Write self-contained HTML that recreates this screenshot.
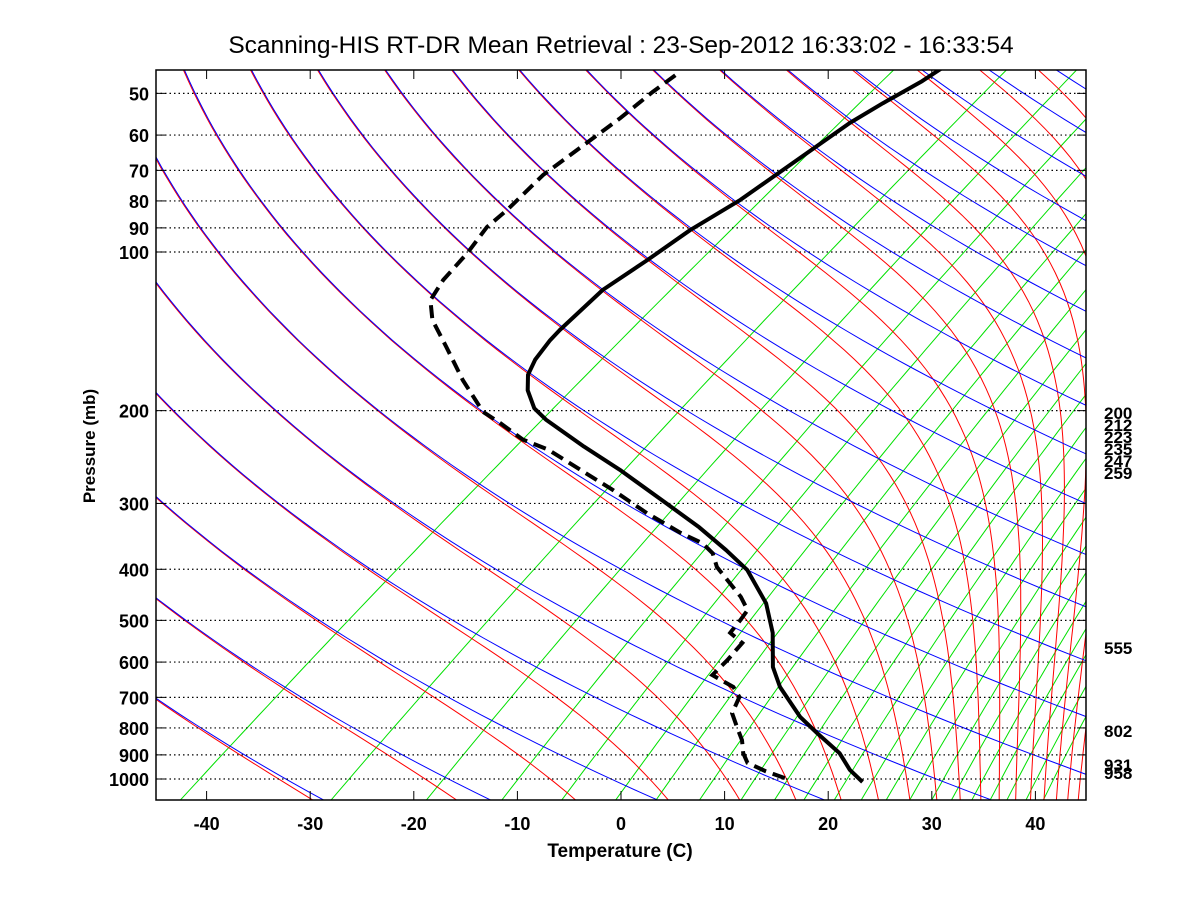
<!DOCTYPE html>
<html><head><meta charset="utf-8"><style>
body{margin:0;background:#fff}
svg{display:block;font-family:"Liberation Sans",sans-serif}
</style></head><body>
<svg id="chart" width="1200" height="900" viewBox="0 0 1200 900" xmlns="http://www.w3.org/2000/svg">
<rect width="1200" height="900" fill="#fff"/>
<defs><clipPath id="pc"><rect x="156" y="70" width="930" height="730"/></clipPath></defs>
<text x="621" y="53" font-size="24.5" text-anchor="middle">Scanning-HIS RT-DR Mean Retrieval : 23-Sep-2012 16:33:02 - 16:33:54</text>
<g id="grid" clip-path="url(#pc)"></g>
<g id="lev"></g>
<g id="prof" clip-path="url(#pc)"></g>
<rect x="156" y="70" width="930" height="730" fill="none" stroke="#000" stroke-width="1.5"/>
<g id="axes" font-weight="bold" font-size="18"></g>
<text x="620" y="857" font-size="19" font-weight="bold" text-anchor="middle">Temperature (C)</text>
<text transform="translate(95,446) rotate(-90)" font-size="17" font-weight="bold" text-anchor="middle">Pressure (mb)</text>
</svg>
<script>
const xTicks=[-40,-30,-20,-10,0,10,20,30,40];
const pLevels=[50,60,70,80,90,100,200,300,400,500,600,700,800,900,1000];
const thetaLines=[];for(let k=0;k<22;k++)thetaLines.push(225+15.7*k);
const mixRatios=[0.11,0.45,1.0,1.8,2.8,4.1,5.4,7.2,9.4,11.6,13.9,16.7,19.6,22.7,26,29.5,33,37,41,45,50,55];
const tempP=[1013,961,893,818,763,669,613,528,464,401,368,333,300,259,234,208,198,183,171,160,147,140.6,118,103.6,90.9,79.6,56.9,52.2,47.4,44.8];
const tempT=[23.7,20.9,17.7,12.9,9.2,3.3,0.0,-4.5,-9.0,-15.2,-19.8,-25.4,-31.7,-40.6,-47.1,-54.3,-56.9,-59.9,-61.9,-63.2,-64.3,-64.7,-65.8,-65.4,-65.2,-64.3,-63.8,-63.2,-62.3,-62.1];
const dewP=[996,966,932,893,844,797,750,699,669,635,595,552,528,499,478,451,396,373,357,341,313,283,259,237,227,211,201,175,151.5,134.6,123.4,113,100.4,89.7,83.2,71.4,64.0,55.7,49.7,45.5];
const dewT=[15.7,12.9,10.1,8.4,6.6,4.4,2.1,0.7,-1.2,-4.8,-5.3,-6.1,-8.6,-9.3,-9.9,-12.3,-18.5,-20.7,-23.0,-26.5,-32.3,-38.6,-44.4,-50.2,-53.9,-58.3,-61.4,-67.5,-73.4,-78.3,-81.1,-82.5,-83.7,-85.2,-85.5,-86.6,-86.6,-86.6,-86.9,-86.9];
const rightLabels=["200","212","223","235","247","259","555","802","931","958"];
const rightLabelY=[413,425,437,449,461,473,648,731,765,773];

const X0=621,PX=10.36,S=69,Y1000=779,PD=527;
function L(p){return Math.log10(1000/p);}
function yOf(p){return Y1000-PD*L(p);}
function xOf(T,p){return X0+PX*(T+S*L(p));}
const NS='http://www.w3.org/2000/svg';
function mk(tag,attrs,parent){const e=document.createElementNS(NS,tag);for(const k in attrs)e.setAttribute(k,attrs[k]);parent.appendChild(e);return e;}
const pS=[];for(let i=0;i<=80;i++)pS.push(40*Math.pow(1150/40,i/80));
function es(T){return 6.112*Math.exp(17.67*T/(T+243.5));}
function thetaE(T,p){const Tk=T+273.15;const rs=0.622*es(T)/Math.max(p-es(T),1);return Tk*Math.pow(1000/p,0.286)*Math.exp(2.5e6*rs/(1004*Tk));}
function moistT(te,p){let lo=-160,hi=70;for(let i=0;i<50;i++){const m=(lo+hi)/2;if(thetaE(m,p)>te)hi=m;else lo=m;}return (lo+hi)/2;}
const grid=document.getElementById('grid');
function poly(pts){return pts.map((q,i)=>(i?'L':'M')+q[0].toFixed(1)+','+q[1].toFixed(1)).join('');}
mixRatios.forEach(w=>{const pts=pS.map(p=>{const e=w*p/(622+w);const a=Math.log(e/6.112);const T=243.5*a/(17.67-a);return [xOf(T,p),yOf(p)];});
const el=mk('path',{d:poly(pts),stroke:'#00e000','stroke-width':1,fill:'none'},grid);

});
thetaLines.forEach(th=>{const pts=pS.map(p=>[xOf(moistT(th,p),p),yOf(p)]);
const el=mk('path',{d:poly(pts),stroke:'#ff0000','stroke-width':1,fill:'none'},grid);

});
thetaLines.forEach(th=>{const pts=pS.map(p=>[xOf(th*Math.pow(p/1000,0.286)-273.15,p)+1,yOf(p)]);
const el=mk('path',{d:poly(pts),stroke:'#0000ff','stroke-width':1,fill:'none'},grid);

});
const lev=document.getElementById('lev'),axes=document.getElementById('axes');
pLevels.forEach(p=>{const y=yOf(p);
const ln=mk('line',{x1:156,x2:1086,y1:y,y2:y,stroke:'#000','stroke-width':1.2,'stroke-dasharray':'1.5,3'},lev);


mk('line',{x1:156,x2:165,y1:y,y2:y,stroke:'#000','stroke-width':1},lev);
mk('line',{x1:1077,x2:1086,y1:y,y2:y,stroke:'#000','stroke-width':1},lev);
const t=mk('text',{x:149,y:y+7,'text-anchor':'end'},axes);t.textContent=p;

});
xTicks.forEach(T=>{const x=X0+PX*T;
mk('line',{x1:x,x2:x,y1:800,y2:791,stroke:'#000','stroke-width':1},lev);
mk('line',{x1:x,x2:x,y1:70,y2:79,stroke:'#000','stroke-width':1},lev);
const t=mk('text',{x:x,y:830,'text-anchor':'middle'},axes);t.textContent=T;

});
rightLabels.forEach((s,i)=>{const t=mk('text',{x:1104,y:rightLabelY[i]+6,'font-size':17},axes);t.textContent=s;

});
const prof=document.getElementById('prof');
const tp=mk('path',{d:poly(tempP.map((p,i)=>[xOf(tempT[i],p),yOf(p)])),stroke:'#000','stroke-width':4,fill:'none','stroke-linejoin':'round'},prof);


const dp=mk('path',{d:poly(dewP.map((p,i)=>[xOf(dewT[i],p),yOf(p)])),stroke:'#000','stroke-width':4,fill:'none','stroke-dasharray':'13,7'},prof);


</script>
</body></html>
